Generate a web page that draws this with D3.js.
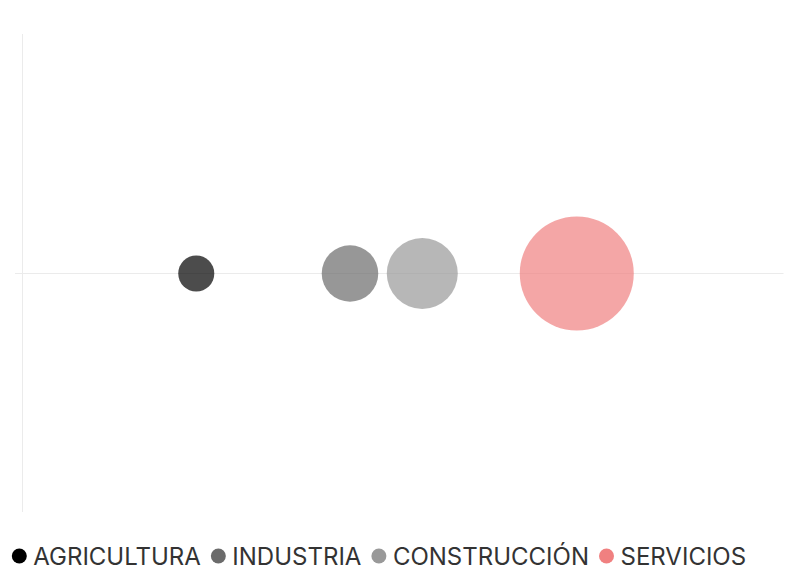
<!DOCTYPE html>
<html><head><meta charset="utf-8">
<script src="https://cdn.jsdelivr.net/npm/d3@7"></script>
<style>
html,body{margin:0;padding:0;background:#fff;}
svg{display:block;}
</style></head>
<body>
<svg id="chart" width="796" height="575"></svg>
<script>
const categories = ["AGRICULTURA", "INDUSTRIA", "CONSTRUCCIÓN", "SERVICIOS"];
const xValues = [22.9, 43.1, 52.6, 72.9];
const sizeValues = [10, 24.6, 38.8, 100];
const colors = ["#000000", "#6b6b6b", "#999999", "#f08080"];

const W = 796, H = 575;
const svg = d3.select("#chart");

const x = d3.scaleLinear().domain([0, 100]).range([22, 783]);
const y = d3.scaleLinear().domain([-1, 1]).range([512, 34]);
const r = d3.scaleSqrt().domain([0, 100]).range([0, 57]);

// vertical axis line
svg.append("line")
  .attr("x1", x(0) + 0.5).attr("x2", x(0) + 0.5)
  .attr("y1", y(1)).attr("y2", y(-1))
  .attr("stroke", "#ebebeb").attr("stroke-width", 1);
// horizontal zero line
svg.append("line")
  .attr("x1", 15).attr("x2", x(100) + 0.5)
  .attr("y1", Math.round(y(0)) + 0.5).attr("y2", Math.round(y(0)) + 0.5)
  .attr("stroke", "#ebebeb").attr("stroke-width", 1);

const data = categories.map((c, i) => ({cat: c, x: xValues[i], s: sizeValues[i], color: colors[i]}));

svg.append("g").selectAll("circle").data(data).join("circle")
  .attr("cx", d => x(d.x))
  .attr("cy", Math.round(y(0)) + 0.5)
  .attr("r", d => r(d.s))
  .attr("fill", d => d.color)
  .attr("fill-opacity", 0.7);

// legend
const legend = svg.append("g");
const legY = 556;
let cursor = 11.8;
data.forEach(d => {
  const g = legend.append("g");
  g.append("circle").attr("cx", cursor + 7.5).attr("cy", legY).attr("r", 7.5).attr("fill", d.color);
  const t = g.append("text")
    .attr("x", cursor + 21.5).attr("y", legY + 8.5)
    .attr("font-family", "Inter, 'Open Sans', sans-serif")
    .attr("font-size", 24)
    .attr("fill", "#333")
    .text(d.cat);
  const w = t.node().getComputedTextLength();
  cursor = cursor + 21.5 + w + 10;
});
</script>
</body></html>
